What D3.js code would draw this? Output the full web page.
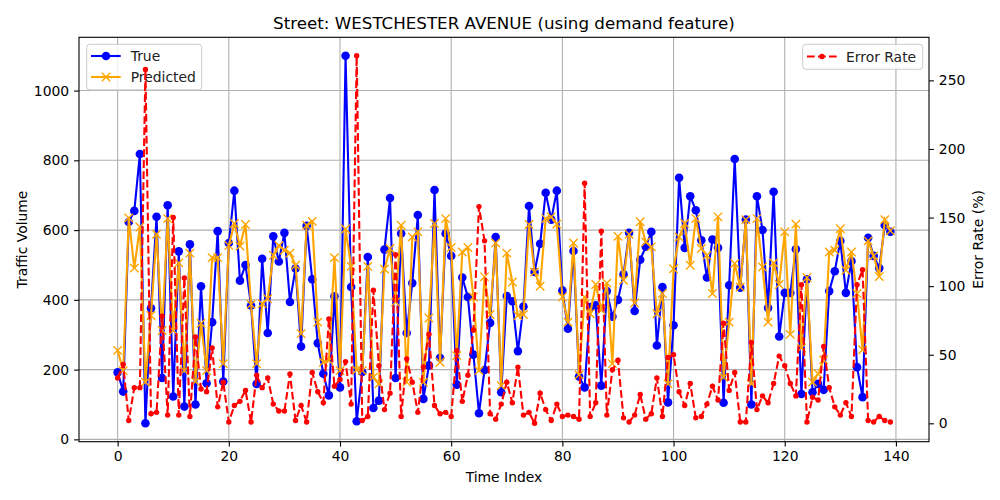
<!DOCTYPE html>
<html>
<head>
<meta charset="utf-8">
<script src="https://cdn.jsdelivr.net/npm/d3@7"></script>
<style>
body { margin: 0; background: #fff; }
text { font-family: "DejaVu Sans", sans-serif; }
</style>
</head>
<body>
<svg id="chart" width="1000" height="500"></svg>
<script>
// values
var trueVals = [192,137,623,655,818,46,376,638,176,671,123,539,94,559,100,439,161,336,597,166,
    563,713,455,500,384,159,518,305,582,510,592,394,490,266,612,459,276,188,126,410,
    149,1100,437,52,193,523,90,111,544,692,176,590,305,448,643,116,212,715,234,590,
    526,157,464,408,243,75,199,334,580,135,411,396,253,381,669,480,561,707,630,713,
    427,317,540,180,149,379,384,154,425,352,400,473,592,368,515,552,595,269,437,106,
    327,750,549,697,657,571,464,573,549,105,442,804,435,630,100,697,600,377,710,295,
    420,420,545,130,459,135,159,142,425,482,569,420,511,207,121,578,526,491,614,595];
var predVals = [255,197,635,491,609,164,355,588,312,633,312,506,197,534,166,333,197,521,521,217,
    556,619,554,616,387,217,389,403,528,556,542,534,499,303,614,625,336,221,226,521,
    197,603,496,199,197,496,178,159,488,547,394,614,164,580,595,164,348,619,221,633,
    550,240,537,550,408,197,466,358,563,154,534,451,355,358,616,480,439,633,638,617,
    408,336,563,185,408,360,444,370,448,217,582,456,588,391,624,566,552,360,418,159,
    489,580,619,499,633,547,528,418,638,178,336,504,437,630,159,633,494,336,506,444,
    595,301,617,262,464,164,188,228,537,542,604,485,537,418,257,569,526,467,630,598];
var errorVals = [33,43,2,26,26,258,7,8,78,6,150,6,106,5,63,25,23,55,12,30,
    1,13,16,24,1,35,26,33,14,9,9,36,2,13,1,37,23,15,76,27,
    32,45,14,268,2,5,97,42,10,22,123,5,47,30,8,41,65,13,7,8,
    5,53,16,35,68,158,133,7,3,14,30,15,41,6,8,0,22,10,2,14,
    5,6,5,3,175,5,15,140,6,39,46,4,1,6,21,3,7,33,5,48,
    50,23,13,29,4,5,14,27,17,73,24,37,1,1,59,10,20,15,29,49,
    42,29,20,101,1,19,17,56,26,12,6,15,5,101,112,2,1,5,2,1];

var xTicks = [0, 20, 40, 60, 80, 100, 120, 140];
var yTicks = [0, 200, 400, 600, 800, 1000];
var errTicks = [0, 50, 100, 150, 200, 250];

var svg = d3.select("#chart");
var plot = { left: 79, right: 929, top: 37.3, bottom: 441.7 };
var idx = d3.range(trueVals.length);

function padded(lo, hi) {
    var m = (hi - lo) * 0.05;
    return [lo - m, hi + m];
}

var x = d3.scaleLinear().domain(padded(0, idx.length - 1)).range([plot.left, plot.right]);
var allVol = trueVals.concat(predVals);
var y = d3.scaleLinear().domain(padded(d3.min(allVol), d3.max(allVol))).range([plot.bottom, plot.top]);
var y2 = d3.scaleLinear().domain(padded(d3.min(errorVals), d3.max(errorVals))).range([plot.bottom, plot.top]);

svg.append("rect").attr("width", 1000).attr("height", 500).attr("fill", "#fff");

// grid
var grid = svg.append("g").attr("stroke", "#b0b0b0").attr("stroke-width", 1.1);
grid.selectAll(".gx").data(xTicks).enter().append("line")
    .attr("x1", function(d) { return x(d); }).attr("x2", function(d) { return x(d); })
    .attr("y1", plot.top).attr("y2", plot.bottom);
grid.selectAll(".gy").data(yTicks).enter().append("line")
    .attr("y1", function(d) { return y(d); }).attr("y2", function(d) { return y(d); })
    .attr("x1", plot.left).attr("x2", plot.right);

var clip = svg.append("clipPath").attr("id", "clip").append("rect")
    .attr("x", plot.left).attr("y", plot.top)
    .attr("width", plot.right - plot.left).attr("height", plot.bottom - plot.top);

var ax1 = svg.append("g").attr("clip-path", "url(#clip)");

// true series
var lineTrue = d3.line().x(function(i) { return x(i); }).y(function(i) { return y(trueVals[i]); });
ax1.append("path").datum(idx).attr("d", lineTrue)
    .attr("fill", "none").attr("stroke", "blue").attr("stroke-width", 2.1);
ax1.selectAll(".dotTrue").data(idx).enter().append("circle")
    .attr("cx", function(i) { return x(i); })
    .attr("cy", function(i) { return y(trueVals[i]); })
    .attr("r", 4.3).attr("fill", "blue");

// predicted series
var linePred = d3.line().x(function(i) { return x(i); }).y(function(i) { return y(predVals[i]); });
ax1.append("path").datum(idx).attr("d", linePred)
    .attr("fill", "none").attr("stroke", "orange").attr("stroke-width", 2.1);
ax1.selectAll(".xPred").data(idx).enter().append("path")
    .attr("d", function(i) {
        var cx = x(i), cy = y(predVals[i]), s = 4.2;
        return "M" + (cx - s) + " " + (cy - s) + "L" + (cx + s) + " " + (cy + s) +
               "M" + (cx - s) + " " + (cy + s) + "L" + (cx + s) + " " + (cy - s);
    })
    .attr("stroke", "orange").attr("stroke-width", 1.4).attr("fill", "none");

// legend for the left axis (drawn under the error series, as in the reference)
function legendBox(g, x0, y0, w, h) {
    g.append("rect").attr("x", x0).attr("y", y0).attr("width", w).attr("height", h)
        .attr("rx", 3).attr("fill", "#fff").attr("fill-opacity", 0.8)
        .attr("stroke", "#cccccc").attr("stroke-width", 1);
}
var leg1 = svg.append("g");
legendBox(leg1, 86.7, 44.3, 115, 45.5);
leg1.append("line").attr("x1", 91).attr("x2", 120.7).attr("y1", 56).attr("y2", 56)
    .attr("stroke", "blue").attr("stroke-width", 2.1);
leg1.append("circle").attr("cx", 106).attr("cy", 56).attr("r", 4.3).attr("fill", "blue");
leg1.append("text").attr("x", 130.7).attr("y", 56).attr("dy", "0.36em")
    .attr("font-size", 13.9).attr("fill", "#222").text("True");
leg1.append("line").attr("x1", 91).attr("x2", 120.7).attr("y1", 77).attr("y2", 77)
    .attr("stroke", "orange").attr("stroke-width", 2.1);
leg1.append("path").attr("d", "M101.8 72.8L110.2 81.2M101.8 81.2L110.2 72.8")
    .attr("stroke", "orange").attr("stroke-width", 1.4);
leg1.append("text").attr("x", 130.7).attr("y", 77).attr("dy", "0.36em")
    .attr("font-size", 13.9).attr("fill", "#222").text("Predicted");

// error series on the twin axis
var ax2 = svg.append("g").attr("clip-path", "url(#clip)");
var lineErr = d3.line().x(function(i) { return x(i); }).y(function(i) { return y2(errorVals[i]); });
ax2.append("path").datum(idx).attr("d", lineErr)
    .attr("fill", "none").attr("stroke", "red").attr("stroke-width", 2.1)
    .attr("stroke-dasharray", "7.7,3.3");
ax2.selectAll(".dotErr").data(idx).enter().append("circle")
    .attr("cx", function(i) { return x(i); })
    .attr("cy", function(i) { return y2(errorVals[i]); })
    .attr("r", 2.7).attr("fill", "red");

var leg2 = svg.append("g");
legendBox(leg2, 802.7, 44.3, 120, 25);
leg2.append("line").attr("x1", 807).attr("x2", 836.7).attr("y1", 56.5).attr("y2", 56.5)
    .attr("stroke", "red").attr("stroke-width", 2.1).attr("stroke-dasharray", "7.7,3.3");
leg2.append("circle").attr("cx", 822).attr("cy", 56.5).attr("r", 2.7).attr("fill", "red");
leg2.append("text").attr("x", 846).attr("y", 56.5).attr("dy", "0.36em")
    .attr("font-size", 13.9).attr("fill", "#222").text("Error Rate");

// frame
svg.append("rect").attr("x", plot.left).attr("y", plot.top)
    .attr("width", plot.right - plot.left).attr("height", plot.bottom - plot.top)
    .attr("fill", "none").attr("stroke", "#000").attr("stroke-width", 1.1);

// axes
function styleAxis(g) {
    g.select(".domain").remove();
    g.selectAll(".tick line").attr("stroke", "#000").attr("stroke-width", 1.1);
    g.selectAll(".tick text").attr("fill", "#000").attr("font-size", 13.9)
        .attr("font-family", "DejaVu Sans, sans-serif");
}
svg.append("g").attr("transform", "translate(0," + plot.bottom + ")")
    .call(d3.axisBottom(x).tickValues(xTicks).tickSize(4.9).tickPadding(4.9).tickFormat(d3.format("d")))
    .call(styleAxis);
svg.append("g").attr("transform", "translate(" + plot.left + ",0)")
    .call(d3.axisLeft(y).tickValues(yTicks).tickSize(4.9).tickPadding(4.9).tickFormat(d3.format("d")))
    .call(styleAxis);
svg.append("g").attr("transform", "translate(" + plot.right + ",0)")
    .call(d3.axisRight(y2).tickValues(errTicks).tickSize(4.9).tickPadding(4.9).tickFormat(d3.format("d")))
    .call(styleAxis);

// labels
var midX = (plot.left + plot.right) / 2;
var midY = (plot.top + plot.bottom) / 2;
svg.append("text").attr("x", midX).attr("y", 29).attr("text-anchor", "middle")
    .attr("font-size", 16.7).attr("fill", "#000")
    .text("Street: WESTCHESTER AVENUE (using demand feature)");
svg.append("text").attr("x", midX).attr("y", 482).attr("text-anchor", "middle")
    .attr("font-size", 13.9).attr("fill", "#000").text("Time Index");
svg.append("text").attr("transform", "translate(27," + midY + ") rotate(-90)")
    .attr("text-anchor", "middle").attr("font-size", 13.9).attr("fill", "#000")
    .text("Traffic Volume");
svg.append("text").attr("transform", "translate(983," + midY + ") rotate(-90)")
    .attr("text-anchor", "middle").attr("font-size", 13.9).attr("fill", "#000")
    .text("Error Rate (%)");
</script>
</body>
</html>
